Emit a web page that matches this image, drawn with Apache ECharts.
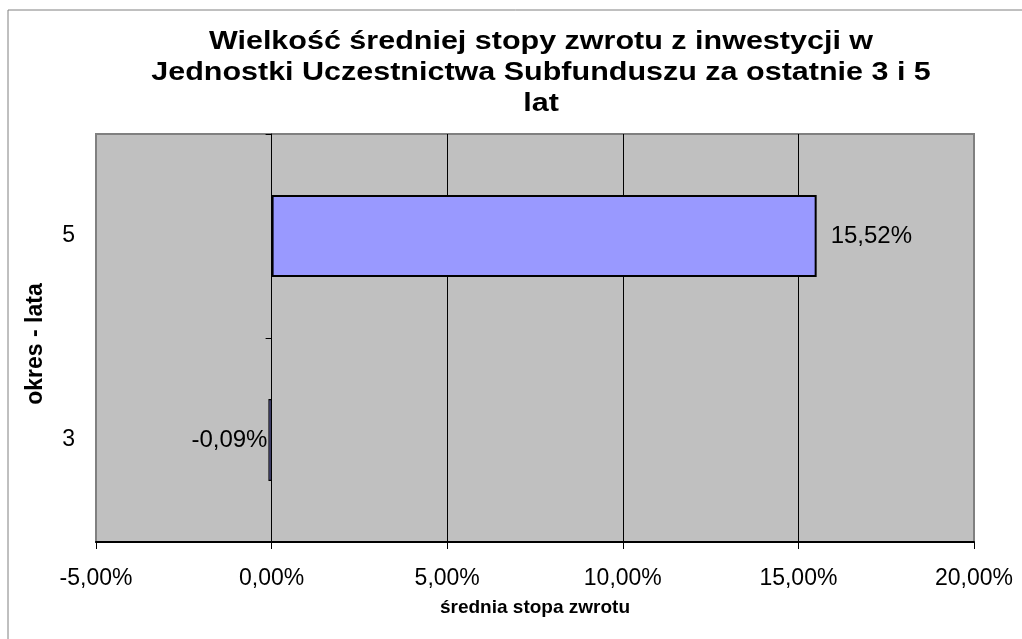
<!DOCTYPE html>
<html>
<head>
<meta charset="utf-8">
<script src="https://cdn.jsdelivr.net/npm/echarts@6/dist/echarts.min.js"></script>
<style>
  html, body { margin: 0; padding: 0; background: #fff; }
  #chart { width: 1022px; height: 639px; }
</style>
</head>
<body>
<div id="chart"></div>
<script>
// okres (lata) i średnia stopa zwrotu w %
const categories = ['3', '5']
const values = [-0.09, 15.52]
const xTicks = { min: -5, max: 20, interval: 5 }
const titleText = 'Wielkość średniej stopy zwrotu z inwestycji w\nJednostki Uczestnictwa Subfunduszu za ostatnie 3 i 5\nlat'

const FONT = "'Liberation Sans', Arial, sans-serif"
const pct = v => v.toFixed(2).replace('.', ',') + '%'

const chart = echarts.init(document.getElementById('chart'))

chart.setOption({
  backgroundColor: '#fff',
  animation: false,
  graphic: [{
    type: 'rect',
    shape: { x: 8, y: 10, width: 1030, height: 650 },
    style: { fill: 'none', stroke: '#808080', lineWidth: 1 },
    z: -1
  }, {
    // tytuł, rozciągnięty w poziomie jak w oryginale
    type: 'text',
    x: 541,
    y: 27,
    scaleX: 1.22,
    style: {
      text: titleText,
      fontFamily: FONT, fontSize: 25, fontWeight: 'bold',
      fill: '#000', lineHeight: 31,
      align: 'center', verticalAlign: 'top'
    }
  }],
  grid: {
    left: 96, right: 48, top: 134, bottom: 97,
    show: true,
    backgroundColor: '#c0c0c0',
    borderColor: '#808080',
    borderWidth: 2
  },
  xAxis: {
    type: 'value',
    min: xTicks.min, max: xTicks.max, interval: xTicks.interval,
    name: 'średnia stopa zwrotu',
    nameLocation: 'middle',
    nameGap: 56,
    nameTextStyle: { fontFamily: FONT, fontSize: 19, fontWeight: 'bold', color: '#000' },
    axisLine: { show: true, onZero: false, lineStyle: { color: '#000', width: 2 } },
    axisTick: { show: true, length: 7, lineStyle: { color: '#000', width: 1 } },
    axisLabel: { fontFamily: FONT, fontSize: 23, color: '#000', margin: 25, formatter: pct },
    splitLine: { show: true, showMinLine: false, showMaxLine: false, lineStyle: { color: '#000', width: 1 } }
  },
  yAxis: [{
    type: 'category',
    data: categories,
    name: 'okres - lata',
    nameLocation: 'middle',
    nameRotate: 90,
    nameGap: 49,
    nameTextStyle: { fontFamily: FONT, fontSize: 23, fontWeight: 'bold', color: '#000', padding: [0, 12, 0, 0] },
    axisLine: { show: false, onZero: false },
    axisTick: { show: false },
    axisLabel: { fontFamily: FONT, fontSize: 23, color: '#000', margin: 21 }
  }, {
    type: 'category',
    data: categories,
    position: 'left',
    axisLine: { show: true, onZero: true, lineStyle: { color: '#000', width: 1 } },
    axisTick: { show: true, length: 6, lineStyle: { color: '#000' } },
    axisLabel: { show: false },
    splitLine: { show: false }
  }],
  series: [{
    type: 'bar',
    barWidth: 82,
    data: values.map(v => ({
      value: v,
      itemStyle: { borderWidth: Math.abs(v) < 1 ? 1.2 : 2 },
      label: { position: v < 0 ? 'left' : 'right', distance: v < 0 ? 1 : 14 }
    })),
    itemStyle: { color: '#9999ff', borderColor: '#000', borderWidth: 2 },
    label: {
      show: true,
      fontFamily: FONT, fontSize: 24, color: '#000',
      formatter: p => pct(p.value)
    }
  }]
})
</script>
</body>
</html>
